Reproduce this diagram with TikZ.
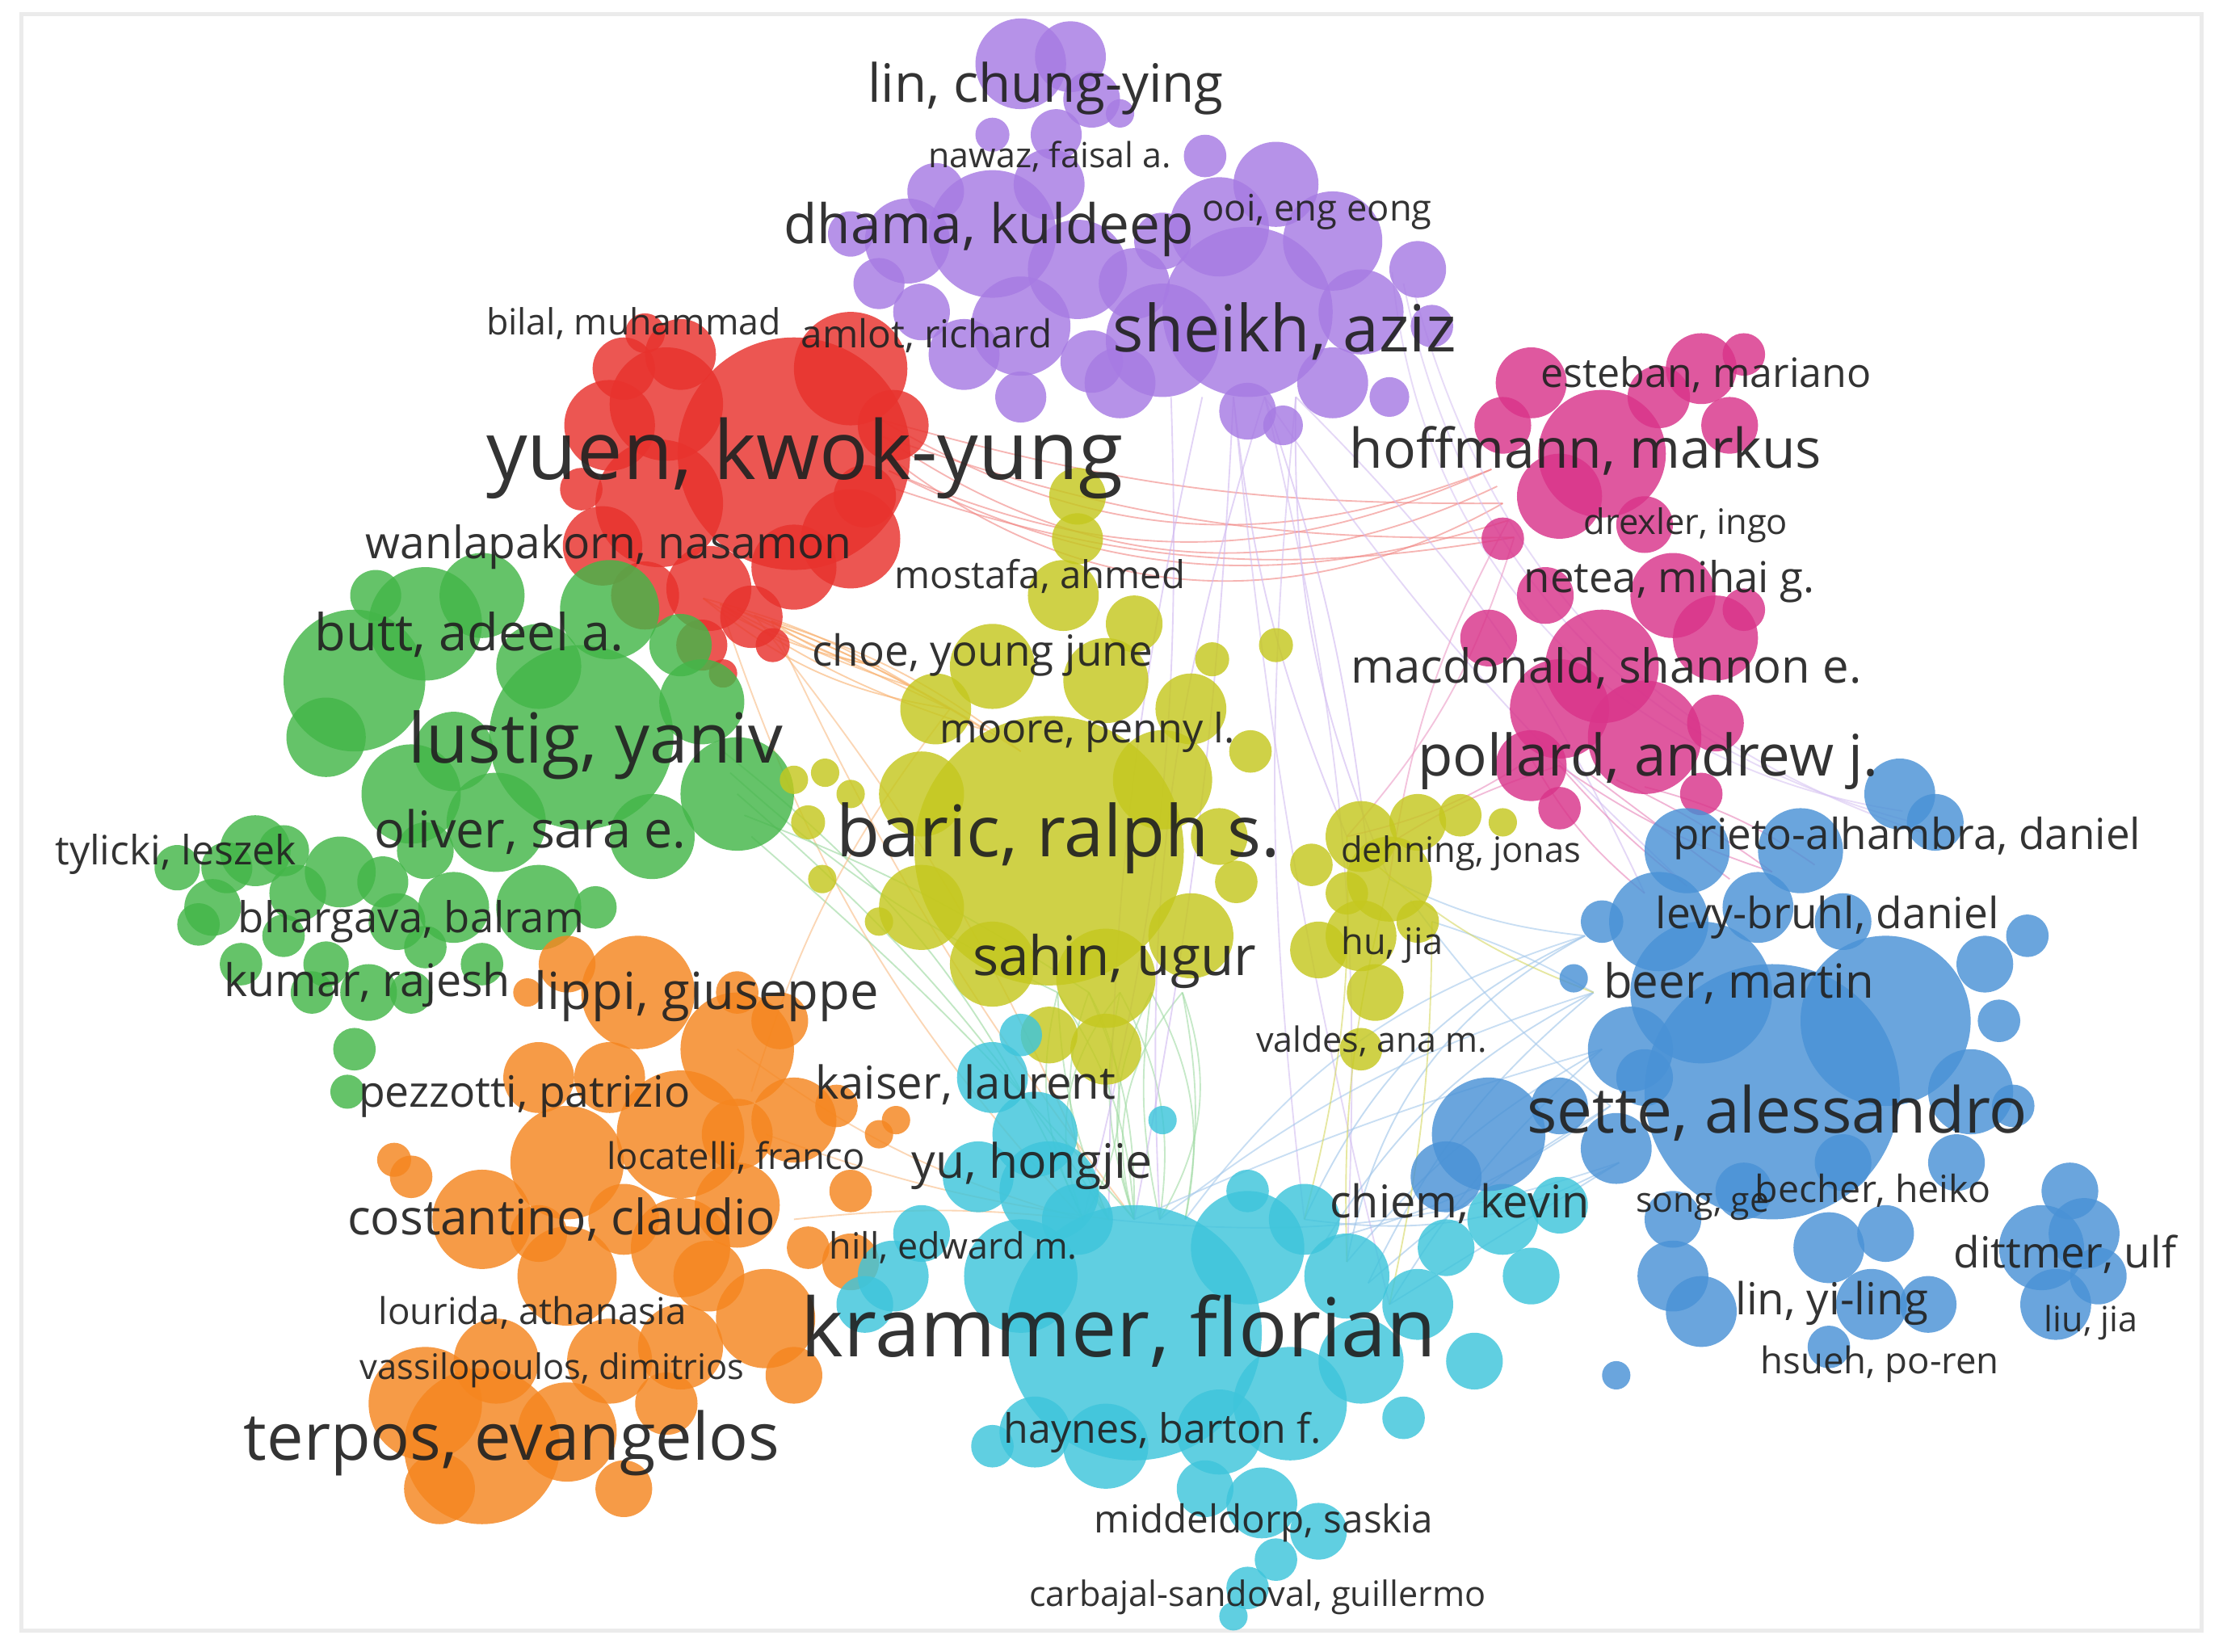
\documentclass[tikz,border=0pt]{standalone}
\usepackage{fontspec}
\setmainfont{Open Sans}
\definecolor{cred}{HTML}{E8322D}
\definecolor{cgreen}{HTML}{44B649}
\definecolor{cpurple}{HTML}{A77BE3}
\definecolor{cpink}{HTML}{D9348A}
\definecolor{cyel}{HTML}{C5C81F}
\definecolor{ccyan}{HTML}{3EC5DB}
\definecolor{cblue}{HTML}{4A92D6}
\definecolor{corange}{HTML}{F5861F}
\definecolor{ctext}{HTML}{222222}
\tikzset{
  edge/.style={line width=1.05pt, draw opacity=0.6},
  lab/.style={anchor=base west, inner sep=0pt, outer sep=0pt, text=ctext, text opacity=0.92},
}
\newcommand{\bubbles}[2]{\foreach \x/\y/\r in {#2} {\fill[#1, fill opacity=0.82] (\x,\y) circle (\r pt);}}
\newcommand{\lbl}[5]{\node[lab] (#1) at (#2,#3) {\resizebox{#4pt}{!}{#5}};}
% five named points spread around (x,y) with step (dx,dy)
\newcommand{\pts}[5]{\foreach \i in {1,...,5} {\coordinate (#1\i) at ({#2+(\i-3)*#4},{#3+(\i-3)*#5});}}
% connectors between point sets: list of i/j/bend
\newcommand{\fan}[4]{\foreach \i/\j/\bb in {#4} {\draw[edge, #3] (#1\i) to[bend left=\bb] (#2\j);}}
\begin{document}
\begin{tikzpicture}[x=1pt,y=-1pt]
\useasboundingbox (0,0) rectangle (1568,1165);
\fill[white] (0,0) rectangle (1568,1165);
\draw[black!8, line width=3pt] (15,10) rectangle (1553,1150);

% named end points of connectors
\pts{R}{625}{320}{2}{12}      % red, right side
\pts{M}{1060}{355}{4}{12}     % magenta, left side
\pts{RB}{520}{430}{12}{4}     % red, bottom
\pts{YL}{670}{500}{25}{15}    % yellow, upper left
\pts{S}{790}{700}{22}{0}      % yellow, sahin
\pts{K}{800}{860}{18}{0}      % cyan, krammer top
\pts{P}{870}{280}{22}{0}      % purple, sheikh bottom
\pts{YR}{980}{620}{15}{15}    % yellow right group
\pts{B}{1130}{740}{6}{40}     % blue, left side
\pts{C}{950}{890}{15}{15}     % cyan, right side
\pts{MB}{1120}{545}{20}{5}    % magenta bottom
\pts{BT}{1220}{620}{30}{-5}   % blue top
\pts{G}{520}{560}{5}{15}      % green right
\pts{O}{540}{800}{10}{30}     % orange right
\pts{PA}{990}{200}{8}{8}      % purple right
\pts{BR}{1350}{580}{8}{8}     % blue top right

% connectors (beneath the bubbles)
\fan{R}{M}{cred!60}{1/1/-26, 2/2/-30, 3/3/-34, 4/4/-22, 5/5/-14, 2/5/-10, 4/1/-24, 1/3/-8}
\fan{RB}{YL}{corange!65}{1/1/-10, 2/2/-5, 3/3/0, 4/4/5, 5/5/10, 1/3/-15, 2/4/-8, 3/5/6, 1/2/8, 5/1/-12}
\fan{RB}{K}{corange!55}{2/1/-12, 4/2/8, 5/3/-6}
\fan{S}{K}{cgreen!50}{1/1/-20, 1/2/-10, 2/2/-25, 2/3/12, 3/3/-15, 3/4/18, 4/4/-10, 4/5/20, 5/5/10, 5/4/25, 1/3/15, 3/1/-30, 2/1/30, 4/3/-22, 5/3/-28}
\fan{P}{K}{cpurple!55}{1/1/8, 2/2/-6, 3/3/4, 4/4/-10}
\fan{P}{YR}{cpurple!55}{3/1/-8, 4/2/6, 5/3/-12}
\fan{P}{C}{cpurple!50}{5/1/-6, 4/3/8, 3/5/-4}
\fan{P}{BT}{cpurple!50}{5/1/10, 4/2/-6}
\fan{PA}{BR}{cpurple!45}{2/2/-38, 3/3/-32, 4/4/-28}
\fan{B}{C}{cblue!55}{1/1/-20, 2/2/-15, 3/3/-10, 4/4/-5, 5/5/0, 1/3/-25, 2/4/-12, 3/5/-8, 4/2/10, 5/1/18}
\fan{B}{K}{cblue!50}{1/5/-18, 2/4/-10, 3/3/-4, 5/2/12}
\fan{B}{YR}{cblue!50}{1/3/10, 2/5/-6, 4/4/8}
\fan{MB}{BT}{cpink!60}{1/1/-10, 2/2/-5, 3/3/0, 4/4/5, 5/5/10, 2/4/-8}
\fan{MB}{YR}{cpink!55}{1/1/10, 2/2/-8}
\fan{M}{YR}{cpink!50}{5/1/12, 4/3/-10}
\fan{G}{K}{cgreen!55}{1/1/14, 3/2/8, 5/3/4}
\fan{G}{S}{cgreen!55}{2/1/-8, 4/2/6}
\fan{O}{K}{corange!55}{1/1/-10, 3/2/-6, 5/1/6}
\fan{O}{YL}{corange!55}{2/3/10}
\fan{YR}{C}{cyel!70}{1/1/8, 3/3/-8, 5/5/6}
\fan{YR}{B}{cyel!70}{2/2/-10}

% purple cluster
\bubbles{cpurple}{720/45/32, 755/40/25, 770/70/20, 745/95/18, 700/95/12, 790/80/10,
 700/165/45, 640/170/30, 600/165/16, 660/135/20, 740/130/25, 760/190/35, 720/230/35, 680/250/25, 650/220/20, 720/280/18, 620/200/18,
 880/220/60, 820/240/40, 790/270/25, 800/200/25, 860/160/35, 900/130/30, 940/170/35, 960/220/30, 940/270/25, 880/290/20, 1000/190/20, 1010/230/15, 850/110/15, 820/170/20, 770/255/22, 980/280/14, 905/300/14}
% red cluster
\bubbles{cred}{560/320/82, 600/260/40, 630/300/25, 470/285/40, 440/260/22, 455/235/14, 430/300/32, 465/355/45, 425/385/28, 500/415/30, 455/420/24, 530/435/22, 495/455/18, 545/455/12, 510/475/10, 600/380/35, 560/400/30, 480/250/25, 610/350/22, 410/345/15}
% green cluster
\bubbles{cgreen}{410/520/65, 250/480/50, 300/440/40, 340/420/30, 430/430/35, 495/495/30, 520/560/40, 290/560/35, 350/580/35, 460/590/30, 230/520/28, 380/470/30, 480/455/22, 265/420/18, 320/530/28,
 180/600/25, 150/640/20, 125/612/16, 210/630/20, 240/615/25, 280/650/20, 320/640/25, 380/640/30, 260/700/20, 250/740/15, 245/770/12, 290/700/15, 230/680/16, 170/680/15, 200/660/15, 340/680/15, 420/640/15,
 200/600/18, 160/612/18, 270/622/18, 300/600/20, 140/652/15, 220/700/15, 300/668/15}
% orange cluster
\bubbles{corange}{340/1020/55, 300/990/40, 400/1010/35, 400/820/40, 480/800/45, 450/700/40, 520/740/40, 560/790/30, 340/860/35, 400/900/35, 480/880/35, 520/850/30, 540/930/35, 480/950/30, 560/970/20, 600/890/20, 620/800/10, 632/790/10, 290/830/15, 278/818/12, 372/700/10, 400/680/20, 520/700/15, 550/720/20, 590/780/15, 350/960/30, 430/960/30, 310/1050/25, 440/1050/20, 380/760/25, 600/840/15, 470/990/22,
 430/760/25, 500/900/25, 440/860/25, 380/870/20, 520/800/25, 570/880/15}
% yellow cluster
\bubbles{cyel}{740/600/95, 760/350/20, 760/380/18, 750/420/25, 800/440/20, 700/470/30, 780/480/30, 660/500/25, 840/500/25, 820/550/35, 650/560/30, 860/590/20, 872/622/15, 882/530/15, 900/455/12, 855/465/12, 650/640/30, 700/680/30, 780/690/35, 840/660/30, 780/740/25, 740/730/20, 600/560/10, 570/580/12, 560/550/10, 580/620/10, 620/650/10, 582/545/10,
 960/590/25, 1000/580/20, 1030/575/15, 1060/580/10, 980/620/30, 960/660/25, 930/670/20, 970/700/20, 960/740/15, 1000/650/15, 950/630/15, 925/610/15}
% cyan cluster
\bubbles{ccyan}{800/940/90, 730/800/30, 700/760/25, 720/730/15, 690/830/25, 740/840/35, 650/870/20, 630/900/25, 610/920/20, 720/900/40, 880/880/40, 920/860/25, 950/900/30, 960/960/30, 910/990/40, 860/1010/30, 780/1020/30, 730/1010/25, 700/1020/15, 850/1050/20, 890/1060/25, 930/1080/20, 900/1100/15, 880/1120/15, 870/1140/10, 1000/920/25, 1020/880/20, 1060/860/25, 1080/900/20, 1100/850/20, 1040/960/20, 990/1000/15, 820/790/10, 880/840/15, 760/860/25}
% pink cluster
\bubbles{cpink}{1130/320/45, 1080/270/25, 1200/260/25, 1220/300/20, 1060/300/20, 1100/350/30, 1060/380/15, 1160/370/20, 1090/420/20, 1180/420/30, 1210/450/30, 1130/470/40, 1100/500/35, 1160/520/40, 1080/540/25, 1210/510/20, 1050/450/20, 1100/570/15, 1200/560/15, 1230/430/15, 1170/280/22, 1230/250/15}
% blue cluster
\bubbles{cblue}{1250/770/90, 1330/720/60, 1200/700/50, 1170/650/35, 1190/600/30, 1270/600/30, 1340/560/25, 1365/580/20, 1150/740/30, 1140/810/25, 1050/800/40, 1020/830/25, 1390/770/30, 1420/780/15, 1180/900/25, 1200/925/25, 1290/880/25, 1320/920/25, 1360/920/20, 1440/880/30, 1470/870/25, 1450/920/25, 1480/900/20, 1400/680/20, 1430/660/15, 1410/720/15, 1290/950/15, 1140/970/10, 1230/840/20, 1300/820/20, 1110/690/10, 1130/650/15, 1160/760/20, 1240/640/25, 1300/650/20,
 1180/860/20, 1100/780/20, 1330/870/20, 1380/820/20, 1460/840/20}

% labels
\lbl{n1}{612}{72}{251}{lin, chung-ying}
\lbl{n2}{655}{118}{171}{nawaz, faisal a.}
\lbl{n3}{553}{172}{289}{dhama, kuldeep}
\lbl{n4}{848}{156}{162}{ooi, eng eong}
\lbl{n5}{343}{236}{208}{bilal, muhammad}
\lbl{n6}{565}{245}{177}{amlot, richard}
\lbl{n7}{785}{248}{242}{sheikh, aziz}
\lbl{n8}{1087}{273}{233}{esteban, mariano}
\lbl{n9}{343}{338}{449}{yuen, kwok-yung}
\lbl{n10}{952}{330}{333}{hoffmann, markus}
\lbl{n11}{1117}{377}{144}{drexler, ingo}
\lbl{n12}{258}{394}{343}{wanlapakorn, nasamon}
\lbl{n13}{631}{415}{205}{mostafa, ahmed}
\lbl{n14}{1075}{418}{205}{netea, mihai g.}
\lbl{n15}{222}{459}{218}{butt, adeel a.}
\lbl{n16}{573}{470}{240}{choe, young june}
\lbl{n17}{953}{482}{360}{macdonald, shannon e.}
\lbl{n18}{288}{538}{264}{lustig, yaniv}
\lbl{n19}{663}{524}{208}{moore, penny l.}
\lbl{n20}{1000}{547}{325}{pollard, andrew j.}
\lbl{n21}{264}{598}{220}{oliver, sara e.}
\lbl{n22}{590}{604}{313}{baric, ralph s.}
\lbl{n23}{39}{610}{170}{tylicki, leszek}
\lbl{n24}{946}{608}{169}{dehning, jonas}
\lbl{n25}{1180}{599}{330}{prieto-alhambra, daniel}
\lbl{n26}{168}{658}{244}{bhargava, balram}
\lbl{n27}{1168}{655}{242}{levy-bruhl, daniel}
\lbl{n28}{686}{688}{200}{sahin, ugur}
\lbl{n29}{946}{673}{72}{hu, jia}
\lbl{n30}{158}{703}{202}{kumar, rajesh}
\lbl{n31}{377}{712}{243}{lippi, giuseppe}
\lbl{n32}{1131}{704}{191}{beer, martin}
\lbl{n33}{886}{742}{163}{valdes, ana m.}
\lbl{n34}{575}{775}{212}{kaiser, laurent}
\lbl{n35}{253}{781}{234}{pezzotti, patrizio}
\lbl{n36}{1077}{799}{353}{sette, alessandro}
\lbl{n37}{428}{825}{182}{locatelli, franco}
\lbl{n38}{643}{831}{170}{yu, hongjie}
\lbl{n39}{245}{871}{302}{costantino, claudio}
\lbl{n40}{938}{859}{183}{chiem, kevin}
\lbl{n41}{1154}{855}{94}{song, ge}
\lbl{n42}{1238}{848}{166}{becher, heiko}
\lbl{n43}{585}{888}{175}{hill, edward m.}
\lbl{n44}{1378}{894}{157}{dittmer, ulf}
\lbl{n45}{1224}{927}{136}{lin, yi-ling}
\lbl{n46}{1442}{939}{66}{liu, jia}
\lbl{n47}{267}{934}{217}{lourida, athanasia}
\lbl{n48}{565}{957}{448}{krammer, florian}
\lbl{n49}{1242}{969}{168}{hsueh, po-ren}
\lbl{n50}{254}{973}{271}{vassilopoulos, dimitrios}
\lbl{n51}{172}{1030}{378}{terpos, evangelos}
\lbl{n52}{708}{1018}{224}{haynes, barton f.}
\lbl{n53}{772}{1081}{239}{middeldorp, saskia}
\lbl{n54}{726}{1133}{322}{carbajal-sandoval, guillermo}
\end{tikzpicture}
\end{document}
